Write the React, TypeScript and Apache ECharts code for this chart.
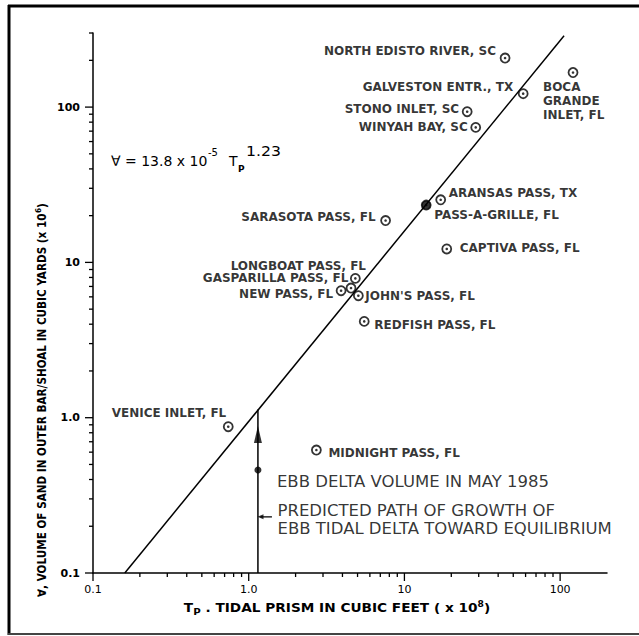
import React, { useEffect, useRef } from 'react';
import * as echarts from 'echarts';

// ---- data ----
const inletNames = [
  'NORTH EDISTO RIVER, SC', 'GALVESTON ENTR., TX', 'BOCA GRANDE INLET, FL', 'STONO INLET, SC',
  'WINYAH BAY, SC', 'ARANSAS PASS, TX', 'PASS-A-GRILLE, FL', 'SARASOTA PASS, FL',
  'CAPTIVA PASS, FL', 'LONGBOAT PASS, FL', 'GASPARILLA PASS, FL', 'NEW PASS, FL',
  "JOHN'S PASS, FL", 'REDFISH PASS, FL', 'VENICE INLET, FL', 'MIDNIGHT PASS, FL',
];
const labelTexts = [
  'NORTH EDISTO RIVER, SC', 'GALVESTON ENTR., TX', 'BOCA\nGRANDE\nINLET, FL', 'STONO INLET, SC',
  'WINYAH BAY, SC', 'ARANSAS PASS, TX', 'PASS-A-GRILLE, FL', 'SARASOTA PASS, FL',
  'CAPTIVA PASS, FL', 'LONGBOAT PASS, FL', 'GASPARILLA PASS, FL', 'NEW PASS, FL',
  "JOHN'S PASS, FL", 'REDFISH PASS, FL', 'VENICE INLET, FL', 'MIDNIGHT PASS, FL',
];
// Tidal prism (x 10^8 cubic feet)
const tidalPrism = [44.3, 57.9, 121, 25.3, 28.7, 17.1, 13.8, 7.57, 18.7, 4.54, 4.84, 3.92, 5.06, 5.52, 0.739, 2.72];
// Sand volume in outer bar (x 10^6 cubic yards)
const sandVolume = [207, 122, 167, 93.4, 74, 25.3, 23.4, 18.6, 12.2, 6.84, 7.89, 6.57, 6.1, 4.17, 0.875, 0.619];
const filledInlets = ['PASS-A-GRILLE, FL'];

const ebbDelta1985X = [1.146];
const ebbDelta1985Y = [0.46];
const fitLineX = [0.16, 106];
const fitLineY = [0.1, 288];
const growthPathX = [1.146, 1.146];
const growthPathY = [0.1, 1.13];
const arrowHeadX = [1.146];
const arrowHeadY = [0.78];
const pointerX = [1.19, 1.41];
const pointerY = [0.23, 0.23];

const xTickLabels = ['0.1', '1.0', '10', '100'];
const yTickLabels = ['0.1', '1.0', '10', '100'];
const xMajorTicks = [0.1, 1, 10, 100];
const yMajorTicks = [0.1, 1, 10, 100];
const xMinorTicks = [0.2, 0.3, 0.4, 0.5, 0.6, 0.7, 0.8, 0.9, 2, 3, 4, 5, 6, 7, 8, 9, 20, 30, 40, 50, 60, 70, 80, 90];
const yMinorTicks = [0.2, 0.3, 0.4, 0.5, 0.6, 0.7, 0.8, 0.9, 2, 3, 4, 5, 6, 7, 8, 9, 20, 30, 40, 50, 60, 70, 80, 90, 200, 300];

// label placement relative to marker centre: [dx, dy, align, verticalAlign]
const labelLayout: [number, number, string, string][] = [
  [-9, -7, 'right', 'middle'],
  [-10, -7, 'right', 'middle'],
  [-30, 7, 'left', 'top'],
  [-8, -3, 'right', 'middle'],
  [-8, 0, 'right', 'middle'],
  [8, -7, 'left', 'middle'],
  [8, 10, 'left', 'middle'],
  [-10, -4, 'right', 'middle'],
  [13, -1, 'left', 'middle'],
  [15, -22, 'right', 'middle'],
  [-7, 0, 'right', 'middle'],
  [-8, 3, 'right', 'middle'],
  [7, 0, 'left', 'middle'],
  [10, 4, 'left', 'middle'],
  [-2, -14, 'right', 'middle'],
  [12, 3, 'left', 'middle'],
];

const LABEL_FONT = 'DejaVu Sans';

function decadeLabel(v: number, labels: string[]) {
  const k = Math.log10(v);
  const r = Math.round(k);
  if (Math.abs(k - r) > 1e-6) return '';
  return labels[r + 1] ?? '';
}

const txt = (x: number, y: number, text: string, fontSize: number, bold = false, scaleX = 1) => ({
  type: 'text', x, y, scaleX,
  style: {
    text, fontFamily: LABEL_FONT, fontSize, fontWeight: bold ? 'bold' : 'normal', fill: '#000',
    align: 'left', verticalAlign: 'middle', textAlign: 'left', textVerticalAlign: 'middle',
  },
});

export default function App() {
  const ref = useRef<HTMLDivElement>(null);
  useEffect(() => {
    document.body.style.margin = '0';
    const chart = echarts.init(ref.current!, null, { renderer: 'svg' });

    const tickRender = (axis: 'x' | 'y') => (params: any, api: any) => {
      const v = api.value(axis === 'x' ? 0 : 1);
      const p = api.coord([api.value(0), api.value(1)]);
      const majors = axis === 'x' ? xMajorTicks : yMajorTicks;
      const isMajor = majors.some((m) => Math.abs(m - v) < 1e-9);
      const len = isMajor ? 8 : 4;
      const shape = axis === 'x'
        ? { x1: p[0], y1: p[1], x2: p[0], y2: p[1] + len }
        : { x1: p[0], y1: p[1], x2: p[0] - len, y2: p[1] };
      return { type: 'line', shape, style: { stroke: '#000', lineWidth: 1.3 } };
    };

    const option: any = {
      animation: false,
      backgroundColor: '#fff',
      grid: { left: 93, right: 32, top: 33, bottom: 63 },
      xAxis: {
        type: 'log', logBase: 10, min: 0.1, max: 200,
        axisLine: { lineStyle: { color: '#000', width: 1.5 } },
        axisTick: { show: false },
        splitLine: { show: false },
        axisLabel: {
          margin: 11, color: '#000', fontFamily: LABEL_FONT, fontSize: 11,
          showMaxLabel: false,
          formatter: (v: number) => decadeLabel(v, xTickLabels),
        },
      },
      yAxis: {
        type: 'log', logBase: 10, min: 0.1, max: 300,
        axisLine: { show: true, lineStyle: { color: '#000', width: 1.5 } },
        axisTick: { show: false },
        splitLine: { show: false },
        axisLabel: {
          margin: 13, color: '#000', fontFamily: LABEL_FONT, fontSize: 11, fontWeight: 'bold',
          showMaxLabel: false,
          formatter: (v: number) => decadeLabel(v, yTickLabels),
        },
      },
      series: [
        {
          type: 'custom', name: 'xticks', silent: true, clip: false,
          renderItem: tickRender('x'),
          data: [...xMajorTicks, ...xMinorTicks].map((v) => [v, 0.1]),
          encode: { x: 0, y: 1 }, z: 1,
        },
        {
          type: 'custom', name: 'yticks', silent: true, clip: false,
          renderItem: tickRender('y'),
          data: [...yMajorTicks, ...yMinorTicks].map((v) => [0.1, v]),
          encode: { x: 0, y: 1 }, z: 1,
        },
        {
          type: 'line', name: 'fit', silent: true, symbol: 'none',
          data: fitLineX.map((x, i) => [x, fitLineY[i]]),
          lineStyle: { color: '#000', width: 1.5 }, z: 2,
        },
        {
          type: 'line', name: 'growth', silent: true, symbol: 'none',
          data: growthPathX.map((x, i) => [x, growthPathY[i]]),
          lineStyle: { color: '#000', width: 1.5 }, z: 2,
        },
        {
          type: 'line', name: 'pointer', silent: true, symbol: 'none',
          data: pointerX.map((x, i) => [x, pointerY[i]]),
          lineStyle: { color: '#000', width: 1.2 }, z: 2,
        },
        {
          type: 'scatter', name: 'pointerHead', silent: true,
          symbol: 'triangle', symbolRotate: 90, symbolSize: [5, 6],
          itemStyle: { color: '#000' },
          data: [[pointerX[0], pointerY[0]]],
          label: {
            show: true, position: 'inside', offset: [17, 3], align: 'left', verticalAlign: 'middle',
            formatter: 'PREDICTED PATH OF GROWTH OF\nEBB TIDAL DELTA TOWARD EQUILIBRIUM',
            color: '#000', fontFamily: LABEL_FONT, fontSize: 16.5, lineHeight: 18,
          },
          z: 3,
        },
        {
          type: 'scatter', name: 'arrowHead', silent: true,
          symbol: 'triangle', symbolSize: [8, 17],
          itemStyle: { color: '#000' },
          data: arrowHeadX.map((x, i) => [x, arrowHeadY[i]]),
          z: 3,
        },
        {
          type: 'scatter', name: 'ebb1985', silent: true,
          symbol: 'circle', symbolSize: 7,
          itemStyle: { color: '#000' },
          data: ebbDelta1985X.map((x, i) => [x, ebbDelta1985Y[i]]),
          label: {
            show: true, position: 'inside', offset: [19, 11], align: 'left', verticalAlign: 'middle',
            formatter: 'EBB DELTA VOLUME IN MAY 1985',
            color: '#000', fontFamily: LABEL_FONT, fontSize: 16.5,
          },
          z: 3,
        },
        {
          type: 'scatter', name: 'inlets', silent: true,
          symbol: 'circle', symbolSize: 9,
          data: inletNames.map((n, i) => {
            const [dx, dy, align, va] = labelLayout[i];
            const filled = filledInlets.includes(n);
            return {
              name: n,
              value: [tidalPrism[i], sandVolume[i]],
              itemStyle: { color: filled ? '#000' : '#fff', borderColor: '#000', borderWidth: 1.8 },
              label: {
                show: true, position: 'inside', offset: [dx, dy], align, verticalAlign: va,
                formatter: labelTexts[i],
                color: '#000', fontFamily: LABEL_FONT, fontWeight: 'bold', fontSize: 12,
                lineHeight: 14,
              },
            };
          }),
          z: 4,
        },
        {
          type: 'scatter', name: 'inletDots', silent: true,
          symbol: 'circle', symbolSize: 2.6,
          itemStyle: { color: '#000' },
          data: tidalPrism.map((x, i) => [x, sandVolume[i]]),
          z: 5,
        },
      ],
      graphic: [
        // outer frame
        { type: 'line', shape: { x1: 9, y1: 5, x2: 9, y2: 635 }, style: { stroke: '#000', lineWidth: 3 } },
        { type: 'line', shape: { x1: 8, y1: 6, x2: 639, y2: 6 }, style: { stroke: '#000', lineWidth: 3 } },
        { type: 'line', shape: { x1: 8, y1: 634, x2: 639, y2: 634 }, style: { stroke: '#444', lineWidth: 2 } },
        // y axis title (reads bottom to top, starting at the bottom)
        {
          type: 'text', x: 42, y: 597, rotation: Math.PI / 2, scaleX: 0.91,
          style: {
            text: '{b|∀, VOLUME OF SAND IN OUTER BAR/SHOAL IN CUBIC YARDS (x 10}{s|6}{b|)}',
            align: 'left', verticalAlign: 'middle', textAlign: 'left', textVerticalAlign: 'middle',
            rich: {
              b: { fontFamily: LABEL_FONT, fontWeight: 'bold', fontSize: 11.5, lineHeight: 16, fill: '#000', color: '#000' },
              s: { fontFamily: LABEL_FONT, fontWeight: 'bold', fontSize: 8, lineHeight: 10, verticalAlign: 'top', fill: '#000', color: '#000' },
            },
          },
        },
        // x axis title
        {
          type: 'text', x: 337, y: 608, scaleX: 1.14,
          style: {
            text: '{b|T}{sub|P}{b| . TIDAL PRISM IN CUBIC FEET ( x 10}{s|8}{b|)}',
            align: 'center', verticalAlign: 'middle', textAlign: 'center', textVerticalAlign: 'middle',
            rich: {
              b: { fontFamily: LABEL_FONT, fontWeight: 'bold', fontSize: 12, lineHeight: 16, fill: '#000', color: '#000' },
              sub: { fontFamily: LABEL_FONT, fontWeight: 'bold', fontSize: 9, lineHeight: 10, verticalAlign: 'bottom', fill: '#000', color: '#000' },
              s: { fontFamily: LABEL_FONT, fontWeight: 'bold', fontSize: 8, lineHeight: 10, verticalAlign: 'top', fill: '#000', color: '#000' },
            },
          },
        },
        // equation
        txt(111, 161, '∀ = 13.8 x 10', 14),
        txt(208, 152, '-5', 10),
        txt(229, 161, 'T', 14),
        txt(238, 169, 'P', 9, true),
        txt(246, 151, '1.23', 14, false, 1.12),
      ],
    };
    chart.setOption(option);
    return () => chart.dispose();
  }, []);
  return <div ref={ref} style={{ width: 639, height: 636, background: '#fff' }} />;
}
